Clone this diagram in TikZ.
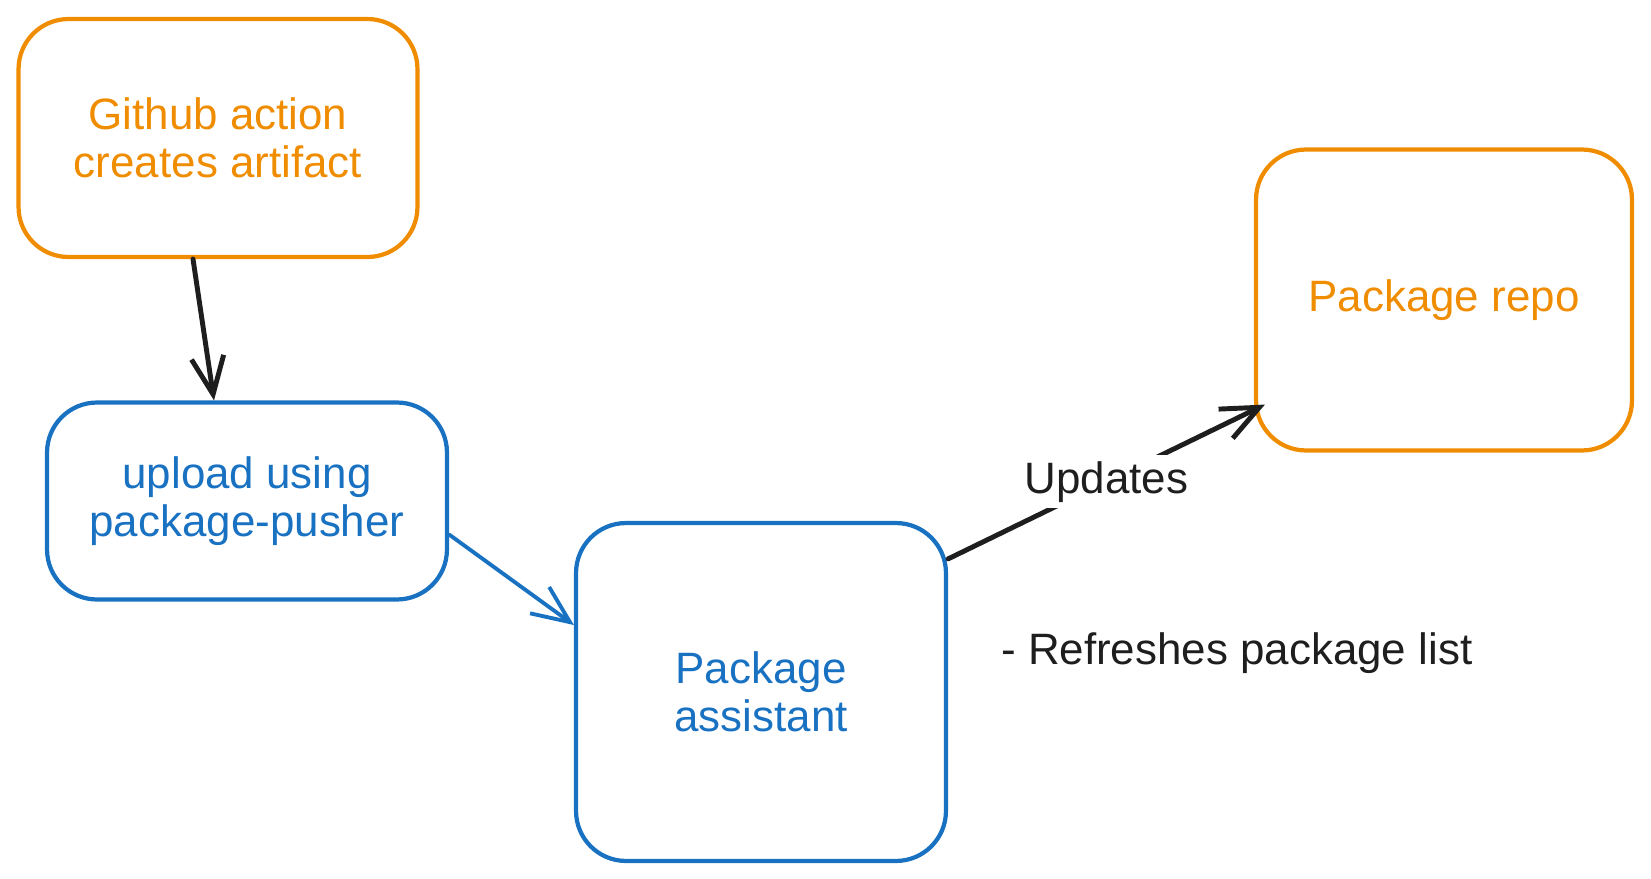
\documentclass[tikz,border=0pt]{standalone}
\usepackage{fontspec}
\setmainfont{Liberation Sans}
\usetikzlibrary{arrows.meta}
\definecolor{sketchorange}{HTML}{F08C00}
\definecolor{sketchblue}{HTML}{1971C2}
\definecolor{sketchink}{HTML}{1E1E1E}
\begin{document}
\begin{tikzpicture}[x=0.02cm, y=-0.02cm,
    >={Straight Barb[length=0.75cm, width=0.65cm]},
    box/.style={rectangle, draw, line width=2.4pt, rounded corners=1cm,
      align=center, font=\fontsize{25}{27}\selectfont},
    flow/.style={->, line width=2.8pt, line cap=round}]
  \useasboundingbox (0,0) rectangle (1651,879);
  % Boxes of the pipeline
  \node[box, sketchorange, minimum width=7.98cm, minimum height=4.76cm] (action) at (218,138) {Github action\\creates artifact};
  \node[box, sketchblue, minimum width=8cm, minimum height=3.94cm] (pusher) at (247,501) {upload using\\package-pusher};
  \node[box, sketchblue, minimum width=7.4cm, minimum height=6.76cm] (assistant) at (761,692) {Package\\assistant};
  \node[box, sketchorange, minimum width=7.52cm, minimum height=6.02cm] (repo) at (1444,300) {Package repo};
  % Connectors
  \draw[flow, sketchink] ([xshift=-0.5cm]action.south) -- ([xshift=-0.66cm]pusher.north);
  \draw[flow, sketchblue, line width=2.2pt] ([yshift=-0.67cm]pusher.east) -- ([yshift=1.34cm]assistant.west);
  \draw[flow, sketchink] ([yshift=-0.76cm]assistant.north east) -- ([xshift=0.22cm, yshift=0.96cm]repo.south west)
    node[midway, fill=white, text=sketchink, font=\fontsize{25}{27}\selectfont] (updates) {Updates};
  % Free note beside the assistant
  \node[anchor=west, text=sketchink, font=\fontsize{25}{27}\selectfont] (note) at (995,653) {- Refreshes package list};
\end{tikzpicture}
\end{document}
